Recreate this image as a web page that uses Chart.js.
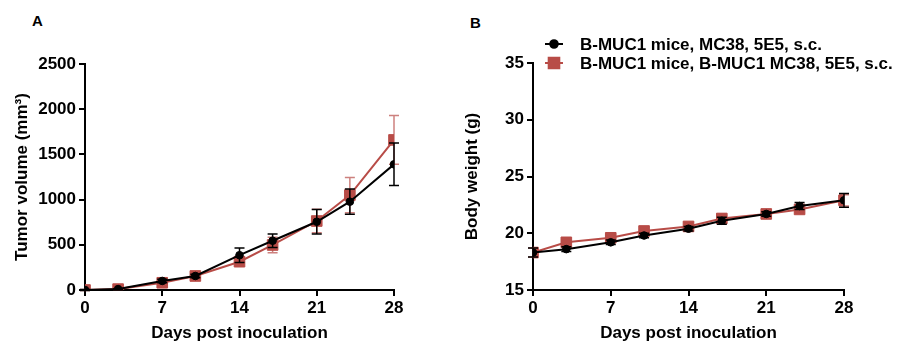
<!DOCTYPE html>
<html>
<head>
<meta charset="utf-8">
<script src="https://cdn.jsdelivr.net/npm/chart.js@4"></script>
<style>
  body { margin: 0; background: #fff; width: 905px; height: 350px; position: relative; overflow: hidden; }
  canvas { position: absolute; top: 0; }
  #chartA { left: 0; }
  #chartB { left: 450px; }
  .panel { position: absolute; font: bold 15px "Liberation Sans", Arial, sans-serif; color: #000; }
</style>
</head>
<body>
<div class="panel" style="left:32px; top:12px;">A</div>
<div class="panel" style="left:470px; top:14px;">B</div>
<canvas id="chartA" width="450" height="350"></canvas>
<canvas id="chartB" width="455" height="350"></canvas>
<script>
const days = [0, 3, 7, 10, 14, 17, 21, 24, 28];
const xTicks = [0, 7, 14, 21, 28];
const seriesNames = ['B-MUC1 mice, MC38, 5E5, s.c.', 'B-MUC1 mice, B-MUC1 MC38, 5E5, s.c.'];

// tumor volume (mm3), mean and SEM
const tumorMC38 = [0, 10, 100, 155, 385, 545, 755, 977, 1390];
const tumorMC38Err = [5, 5, 20, 20, 80, 75, 135, 140, 235];
const tumorBMC38 = [0, 10, 80, 155, 313, 498, 763, 1050, 1660];
const tumorBMC38Err = [5, 5, 20, 20, 40, 85, 130, 195, 270];

// body weight (g), mean and SEM
const weightMC38 = [18.3, 18.6, 19.2, 19.8, 20.4, 21.1, 21.7, 22.4, 22.9];
const weightMC38Err = [0.4, 0.2, 0.2, 0.2, 0.2, 0.3, 0.2, 0.3, 0.6];
const weightBMC38 = [18.3, 19.2, 19.6, 20.2, 20.6, 21.3, 21.7, 22.1, 22.9];
const weightBMC38Err = [0.4, 0.3, 0.3, 0.3, 0.3, 0.4, 0.3, 0.3, 0.5];

const black = '#000000';
const red = '#b84c47';
const redErr = 'rgba(184, 76, 71, 0.7)';
const fontFamily = '"Liberation Sans", Arial, sans-serif';

function points(values) {
    return days.map(function(d, i) { return { x: d, y: values[i] }; });
}

// error bars drawn under each dataset's line and markers
const errorBars = {
    id: 'errorBars',
    beforeDatasetDraw(chart, args) {
        const ds = chart.data.datasets[args.index];
        if (!ds.errors) return;
        const ctx = chart.ctx;
        const xs = chart.scales.x, ys = chart.scales.y;
        ctx.save();
        ctx.strokeStyle = ds.errorColor;
        ctx.lineWidth = 1.5;
        ds.data.forEach(function(p, i) {
            const x = xs.getPixelForValue(p.x);
            const top = ys.getPixelForValue(p.y + ds.errors[i]);
            const bottom = ys.getPixelForValue(p.y - ds.errors[i]);
            ctx.beginPath();
            ctx.moveTo(x, top); ctx.lineTo(x, bottom);
            ctx.moveTo(x - 5, top); ctx.lineTo(x + 5, top);
            ctx.moveTo(x - 5, bottom); ctx.lineTo(x + 5, bottom);
            ctx.stroke();
        });
        ctx.restore();
    }
};

// legend in panel B: line with marker, then label
const lineLegend = {
    id: 'lineLegend',
    afterDraw(chart) {
        if (!chart.options.plugins.lineLegend.show) return;
        const ctx = chart.ctx;
        const rows = [44, 63];
        ctx.save();
        chart.data.datasets.forEach(function(ds, i) {
            const y = rows[i];
            ctx.strokeStyle = ds.borderColor;
            ctx.lineWidth = 2;
            ctx.beginPath();
            ctx.moveTo(95, y); ctx.lineTo(113, y);
            ctx.stroke();
            ctx.fillStyle = ds.borderColor;
            Chart.helpers.drawPoint(ctx, { pointStyle: ds.pointStyle, radius: ds.pointRadius, borderWidth: 1 }, 104, y);
            ctx.fill();
            ctx.fillStyle = black;
            ctx.font = 'bold 17px ' + fontFamily;
            ctx.textBaseline = 'middle';
            ctx.fillText(ds.label, 130, y + 1);
        });
        ctx.restore();
    }
};

function axisOptions(yMin, yMax, yStep, yTitle, yWidth) {
    const tickFont = { family: fontFamily, size: 17, weight: 'bold' };
    const titleFont = { family: fontFamily, size: 17, weight: 'bold' };
    const grid = { display: true, drawOnChartArea: false, drawTicks: true, tickLength: 6, color: black, lineWidth: 2 };
    return {
        x: {
            type: 'linear', min: 0, max: 28,
            afterBuildTicks: function(scale) { scale.ticks = xTicks.map(function(v) { return { value: v }; }); },
            afterFit: function(scale) { scale.height = 60; },
            grid: grid,
            border: { display: true, color: black, width: 2 },
            ticks: { color: black, font: tickFont, padding: 2, maxRotation: 0, callback: function(v) { return String(v); } },
            title: { display: true, text: 'Days post inoculation', color: black, font: titleFont, padding: { top: 2, bottom: 6 } }
        },
        y: {
            type: 'linear', min: yMin, max: yMax,
            afterFit: function(scale) { scale.width = yWidth; },
            grid: grid,
            border: { display: true, color: black, width: 2 },
            ticks: { color: black, font: tickFont, padding: 3, stepSize: yStep, callback: function(v) { return String(v); } },
            title: { display: true, text: yTitle, color: black, font: titleFont, padding: { top: 12, bottom: 0 } }
        }
    };
}

function makeDatasets(blackVals, blackErr, redVals, redErrs) {
    return [
        {
            label: seriesNames[0], data: points(blackVals), errors: blackErr, errorColor: black,
            borderColor: black, backgroundColor: black, borderWidth: 2,
            pointStyle: 'circle', pointRadius: 3.8, pointBorderWidth: 1, pointBackgroundColor: black, pointBorderColor: black
        },
        {
            label: seriesNames[1], data: points(redVals), errors: redErrs, errorColor: redErr,
            borderColor: red, backgroundColor: red, borderWidth: 2,
            pointStyle: 'rect', pointRadius: 7.5, pointBorderWidth: 1, pointBackgroundColor: red, pointBorderColor: red
        }
    ];
}

function makeChart(id, datasets, scales, padding, showLegend) {
    return new Chart(document.getElementById(id).getContext('2d'), {
        type: 'line',
        data: { datasets: datasets },
        options: {
            responsive: false,
            animation: false,
            layout: { padding: padding },
            scales: scales,
            plugins: {
                legend: { display: false },
                tooltip: { enabled: false },
                lineLegend: { show: showLegend }
            }
        },
        plugins: [errorBars, lineLegend]
    });
}

makeChart('chartA',
    makeDatasets(tumorMC38, tumorMC38Err, tumorBMC38, tumorBMC38Err),
    axisOptions(0, 2500, 500, 'Tumor volume (mm³)', 85),
    { top: 64, right: 56, bottom: 0, left: 0 }, false);

makeChart('chartB',
    makeDatasets(weightMC38, weightMC38Err, weightBMC38, weightBMC38Err),
    axisOptions(15, 35, 5, 'Body weight (g)', 83),
    { top: 63, right: 61, bottom: 0, left: 0 }, true);
</script>
</body>
</html>
